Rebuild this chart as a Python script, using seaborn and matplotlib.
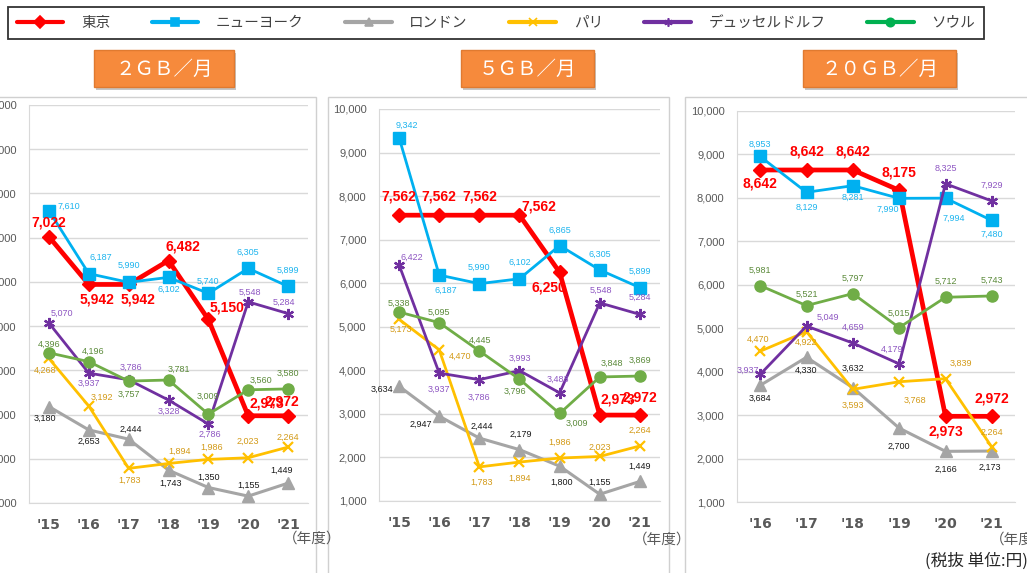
import numpy as np
import matplotlib
matplotlib.use("Agg")
import matplotlib.pyplot as plt
import matplotlib.patches as mpatches
from matplotlib.lines import Line2D
import pandas as pd
import seaborn as sns

W, H = 1027, 573

# ---- data ----
YEARS_15 = ["'15", "'16", "'17", "'18", "'19", "'20", "'21"]
YEARS_16 = ["'16", "'17", "'18", "'19", "'20", "'21"]
CITIES = ['東京', 'ニューヨーク', 'ロンドン', 'パリ', 'デュッセルドルフ', 'ソウル']
PANEL_TITLES = ['２ＧＢ／月', '５ＧＢ／月', '２０ＧＢ／月']

TOKYO_2GB  = [7022, 5942, 5942, 6482, 5150, 2973, 2972]
NY_2GB     = [7610, 6187, 5990, 6102, 5740, 6305, 5899]
LONDON_2GB = [3180, 2653, 2444, 1743, 1350, 1155, 1449]
PARIS_2GB  = [4268, 3192, 1783, 1894, 1986, 2023, 2264]
DUSS_2GB   = [5070, 3937, 3786, 3328, 2786, 5548, 5284]
SEOUL_2GB  = [4396, 4196, 3757, 3781, 3009, 3560, 3580]

TOKYO_5GB  = [7562, 7562, 7562, 7562, 6250, 2973, 2972]
NY_5GB     = [9342, 6187, 5990, 6102, 6865, 6305, 5899]
LONDON_5GB = [3634, 2947, 2444, 2179, 1800, 1155, 1449]
PARIS_5GB  = [5173, 4470, 1783, 1894, 1986, 2023, 2264]
DUSS_5GB   = [6422, 3937, 3786, 3993, 3483, 5548, 5284]
SEOUL_5GB  = [5338, 5095, 4445, 3796, 3009, 3848, 3869]

TOKYO_20GB  = [8642, 8642, 8642, 8175, 2973, 2972]
NY_20GB     = [8953, 8129, 8281, 7990, 7994, 7480]
LONDON_20GB = [3684, 4330, 3632, 2700, 2166, 2173]
PARIS_20GB  = [4470, 4922, 3593, 3768, 3839, 2264]
DUSS_20GB   = [3937, 5049, 4659, 4179, 8325, 7929]
SEOUL_20GB  = [5981, 5521, 5797, 5015, 5712, 5743]

# ---- styles ----
LINE_COLORS  = ['#FF0000', '#00B0F0', '#A5A5A5', '#FFC000', '#7030A0', '#70AD47']
LABEL_COLORS = ['#FF0000', '#1CB4EE', '#1A1A1A', '#D39A17', '#8E56C2', '#5B8A3A']
LEGEND_COLORS = ['#FF0000', '#00B0F0', '#A5A5A5', '#FFC000', '#7030A0', '#00B050']
MARKERS = ['D', 's', '^', 'x', (6, 2, 0), 'o']
MSIZES  = [7, 8, 8, 7, 8, 8]
LWIDTHS = [3.4, 2.0, 2.2, 2.0, 2.0, 2.0]

# label offsets in pixels (dx, dy up)
OFFS_2GB = [
    [(0, 14), (8, -15), (9, -15), (14, 14), (19, 12), (19, 12), (-6, 14)],
    [(20, 4), (12, 16), (0, 17), (0, -12), (0, 12), (0, 16), (0, 16)],
    [(-4, -12), (0, -11), (2, 10), (2, -13), (0, 10), (0, 11), (-6, 13)],
    [(-4, -12), (13, 9), (1, -12), (11, 12), (3, 12), (0, 16), (0, 10)],
    [(13, 10), (0, -10), (2, 12), (0, -11), (2, -10), (2, 10), (-4, 11)],
    [(0, 9), (4, 10), (0, -13), (10, 11), (0, 18), (13, 9), (0, 16)],
]
OFFS_5GB = [
    [(0, 19), (0, 19), (0, 19), (19, 9), (-11, -15), (18, 16), (0, 18)],
    [(8, 12), (7, -15), (0, 16), (0, 16), (0, 15), (0, 16), (0, 16)],
    [(-17, -3), (-18, -8), (2, 12), (1, 15), (2, -16), (0, 12), (0, 15)],
    [(2, -10), (21, -6), (2, -15), (0, -16), (0, 16), (0, 9), (0, 16)],
    [(13, 8), (0, -16), (0, -18), (0, 12), (-2, 14), (1, 13), (0, 17)],
    [(0, 9), (0, 10), (1, 11), (-5, -12), (17, -10), (12, 14), (0, 16)],
]
OFFS_20GB = [
    [(0, -14), (0, 18), (0, 18), (0, 18), (0, -15), (0, 18)],
    [(0, 12), (0, -15), (0, -12), (-11, -11), (8, -20), (0, -14)],
    [(0, -13), (0, -13), (0, 19), (0, -18), (0, -18), (-2, -16)],
    [(-2, 12), (0, -11), (0, -16), (16, -19), (15, 15), (0, 15)],
    [(-12, 4), (21, 9), (0, 16), (-7, 15), (0, 15), (0, 16)],
    [(0, 15), (0, 11), (0, 15), (0, 14), (0, 16), (0, 16)],
]

PANELS = [
    (YEARS_15, [TOKYO_2GB, NY_2GB, LONDON_2GB, PARIS_2GB, DUSS_2GB, SEOUL_2GB], OFFS_2GB),
    (YEARS_15, [TOKYO_5GB, NY_5GB, LONDON_5GB, PARIS_5GB, DUSS_5GB, SEOUL_5GB], OFFS_5GB),
    (YEARS_16, [TOKYO_20GB, NY_20GB, LONDON_20GB, PARIS_20GB, DUSS_20GB, SEOUL_20GB], OFFS_20GB),
]

# pixel boxes (x0, y0, x1, y1), y from top
AX_BOXES = [(29, 105, 308, 503), (379, 109, 660, 501), (737, 111, 1015, 502)]
BORDERS = [(-5, 97, 316, 600), (328, 97, 669, 600), (685, 97, 1040, 600)]
TITLE_BOXES = [(94, 50, 234, 87), (461, 50, 594, 87), (803, 50, 956, 87)]

JP = 'Noto Sans CJK JP'

sns.set_style('white')
plt.rcParams['font.family'] = ['Liberation Sans', JP, 'DejaVu Sans']


def fig_rect(x0, y0, x1, y1):
    return [x0 / W, 1 - y1 / H, (x1 - x0) / W, (y1 - y0) / H]


fig = plt.figure(figsize=(W / 100, H / 100), dpi=100)

# panel borders
for (x0, y0, x1, y1) in BORDERS:
    fig.patches.append(mpatches.Rectangle((x0 / W, 1 - y1 / H), (x1 - x0) / W, (y1 - y0) / H,
                                          transform=fig.transFigure, fill=False,
                                          edgecolor='#D0D0D0', lw=1.0))

for (years, series, offs), box in zip(PANELS, AX_BOXES):
    ax = fig.add_axes(fig_rect(*box))
    xs = np.arange(len(years))
    for i, vals in enumerate(series):
        sns.lineplot(x=xs, y=vals, ax=ax, color=LINE_COLORS[i], linewidth=LWIDTHS[i],
                     marker=MARKERS[i], markersize=MSIZES[i],
                     markeredgecolor=LINE_COLORS[i], markeredgewidth=1.6 if i in (3, 4) else 1.0,
                     zorder=3 + i)
        for x, v, (dx, dy) in zip(xs, vals, offs[i]):
            if i == 0:
                ax.annotate(f'{v:,}', (x, v), xytext=(dx, dy), textcoords='offset pixels',
                            ha='center', va='center', fontsize=10, fontweight='bold',
                            color=LABEL_COLORS[i], zorder=20)
            else:
                ax.annotate(f'{v:,}', (x, v), xytext=(dx, dy), textcoords='offset pixels',
                            ha='center', va='center', fontsize=6.5,
                            color=LABEL_COLORS[i], zorder=20)
    ax.set_xlim(-0.5, len(years) - 0.5)
    ax.set_ylim(1000, 10000)
    ax.set_yticks(np.arange(1000, 10001, 1000))
    ax.set_yticklabels([f'{t:,}' for t in range(1000, 10001, 1000)], fontsize=8, color='#595959')
    ax.set_xticks(xs)
    ax.set_xticklabels(years, fontsize=10, fontweight='bold', color='#595959',
                       family='DejaVu Sans')
    ax.tick_params(axis='y', length=0, pad=9)
    ax.tick_params(axis='x', length=0, pad=11)
    ax.grid(axis='y', color='#D9D9D9', lw=1.0)
    ax.set_axisbelow(True)
    for s in ['top', 'right']:
        ax.spines[s].set_visible(False)
    ax.spines['left'].set_color('#D9D9D9')
    ax.spines['bottom'].set_color('#D9D9D9')
    ax.set_xlabel('')
    ax.set_ylabel('')
    if ax.get_legend():
        ax.get_legend().remove()

# orange title boxes
for (x0, y0, x1, y1), title in zip(TITLE_BOXES, PANEL_TITLES):
    fig.patches.append(mpatches.Rectangle(((x0 + 2) / W, 1 - (y1 + 3) / H), (x1 - x0) / W,
                                          (y1 - y0) / H, transform=fig.transFigure,
                                          facecolor='#7F7F7F', alpha=0.45, lw=0))
    fig.patches.append(mpatches.Rectangle((x0 / W, 1 - y1 / H), (x1 - x0) / W, (y1 - y0) / H,
                                          transform=fig.transFigure, facecolor='#F68A3C',
                                          edgecolor='#E07A30', lw=1))
    fig.text((x0 + x1) / 2 / W, 1 - ((y0 + y1) / 2 + 1) / H, title, ha='center', va='center',
             fontsize=14, color='white', family=JP)

# legend
handles = [Line2D([], [], color=LEGEND_COLORS[i], lw=3, marker=MARKERS[i], markersize=6,
                  markeredgecolor=LEGEND_COLORS[i], markeredgewidth=1.2)
           for i in range(len(CITIES))]
leg = fig.legend(handles, CITIES, loc='upper left', ncol=6,
                 bbox_to_anchor=(8 / W, 1 - 7 / H), borderaxespad=0,
                 prop={'family': JP, 'size': 10.5}, handlelength=3.2, handletextpad=1.2,
                 columnspacing=2.85, borderpad=0.6, fancybox=False, framealpha=1)
leg.get_frame().set_edgecolor('#333333')
leg.get_frame().set_linewidth(1.3)
for t in leg.get_texts():
    t.set_color('#404040')

# footnotes
fig.text(312 / W, 1 - 539 / H, '（年度）', ha='center', va='center', fontsize=10.5,
         color='#595959', family=JP)
fig.text(662 / W, 1 - 540 / H, '（年度）', ha='center', va='center', fontsize=10.5,
         color='#595959', family=JP)
fig.text(990 / W, 1 - 540 / H, '（年度）', ha='left', va='center', fontsize=10.5,
         color='#595959', family=JP)
fig.text(925 / W, 1 - 561 / H, '(税抜 単位:円)', ha='left', va='center', fontsize=12,
         color='#262626', family=JP)

fig.savefig('out.png', dpi=100)
